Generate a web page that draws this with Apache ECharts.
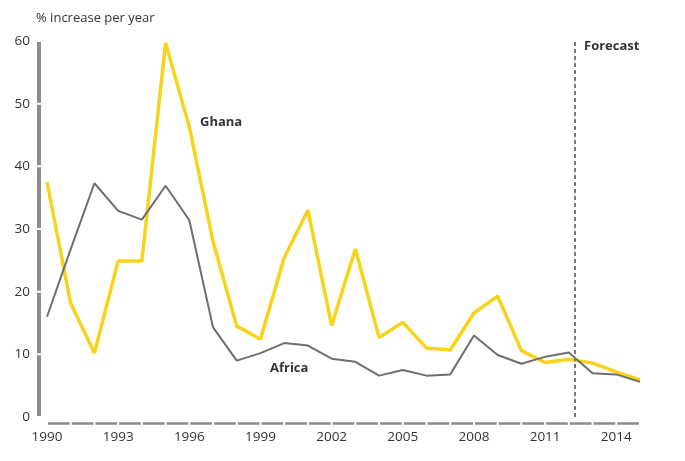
<!DOCTYPE html>
<html>
<head>
<meta charset="utf-8">
<script src="https://cdn.jsdelivr.net/npm/echarts@6/dist/echarts.min.js"></script>
<style>html,body{margin:0;padding:0;background:#fff}#c{width:685px;height:461px}</style>
</head>
<body>
<div id="c"></div>
<script>
const years = [1990,1991,1992,1993,1994,1995,1996,1997,1998,1999,2000,2001,2002,2003,2004,2005,2006,2007,2008,2009,2010,2011,2012,2013,2014,2015];
const ghana = [37.5,18.1,10.2,24.9,24.9,59.7,46.3,28.0,14.5,12.4,25.4,33.0,14.6,26.8,12.7,15.1,11.0,10.7,16.6,19.3,10.6,8.7,9.2,8.6,7.2,5.9];
const africa = [16.0,26.8,37.3,32.9,31.5,36.9,31.4,14.3,9.0,10.2,11.8,11.4,9.3,8.8,6.6,7.5,6.6,6.8,13.0,9.9,8.5,9.6,10.3,7.0,6.8,5.6];
const xLabels = [1990,1993,1996,1999,2002,2005,2008,2011,2014];
const forecastStart = 2012.25;
const yMin = 0, yMax = 60, yStep = 10;

const W = 685, H = 461;
const grid = {left: 47, right: 45, top: 41, bottom: 44};
const gw = W - grid.left - grid.right;
const gh = H - grid.top - grid.bottom;
const yearPx = gw / (years[years.length-1] - years[0]);
const stepPx = gh / ((yMax - yMin) / yStep);
const FONT = '"Open Sans", "Noto Sans", sans-serif';

const chart = echarts.init(document.getElementById('c'), null, {renderer: 'canvas'});
chart.setOption({
  animation: false,
  backgroundColor: '#fff',
  grid: grid,
  title: {
    text: '% increase per year', left: 36, top: 12, padding: 0,
    textStyle: {fontSize: 13, fontWeight: 'normal', color: '#333', fontFamily: FONT}
  },
  xAxis: {
    type: 'value', min: years[0], max: years[years.length-1], offset: 6,
    axisLine: {onZero: false, lineStyle: {color: '#8c8c8c', width: 2.5, cap: 'butt', type: [yearPx - 2, 2], dashOffset: -1}},
    axisTick: {show: false},
    splitLine: {show: false},
    axisLabel: {customValues: xLabels, formatter: v => String(v), margin: 7, fontSize: 13.5, color: '#333', fontFamily: FONT}
  },
  yAxis: {
    type: 'value', min: yMin, max: yMax, interval: yStep, offset: 8,
    axisLine: {show: true, onZero: false, lineStyle: {color: '#8c8c8c', width: 4, cap: 'butt', type: [stepPx - 2, 2], dashOffset: -1}},
    axisTick: {show: false},
    splitLine: {show: false},
    axisLabel: {margin: 9, fontSize: 13.5, color: '#333', fontFamily: FONT}
  },
  series: [
    {
      name: 'Ghana', type: 'line', symbol: 'none',
      data: years.map((y, i) => [y, ghana[i]]),
      lineStyle: {color: '#F7D31A', width: 3.5},
      z: 2
    },
    {
      name: 'Africa', type: 'line', symbol: 'none',
      data: years.map((y, i) => [y, africa[i]]),
      lineStyle: {color: '#6E6E70', width: 2},
      z: 3,
      markLine: {
        silent: true, symbol: 'none', label: {show: false},
        lineStyle: {color: '#777', width: 2, type: [4, 3]},
        data: [{xAxis: forecastStart}]
      }
    }
  ],
  graphic: [
    {type: 'text', left: 200, top: 116, style: {text: 'Ghana', font: 'bold 13px ' + FONT, fill: '#333'}},
    {type: 'text', left: 270, top: 362, style: {text: 'Africa', font: 'bold 13px ' + FONT, fill: '#333'}},
    {type: 'text', left: 584, top: 40, style: {text: 'Forecast', font: 'bold 13px ' + FONT, fill: '#333'}}
  ]
});
</script>
</body>
</html>
